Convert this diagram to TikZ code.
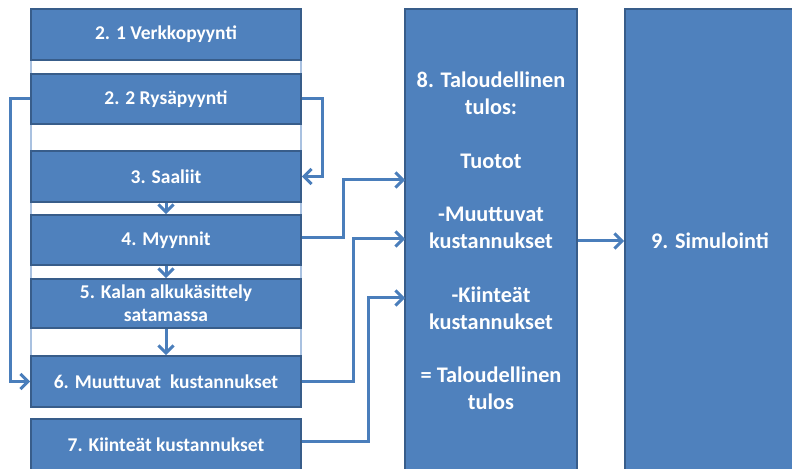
\documentclass[tikz,border=0pt]{standalone}
\usepackage{fontspec}
\setmainfont{Carlito}
\usetikzlibrary{arrows.meta}
\definecolor{boxfill}{HTML}{4F81BD}
\definecolor{boxline}{HTML}{385D8A}
\definecolor{arrc}{HTML}{4A7EBB}
\definecolor{framec}{HTML}{A9C1E0}
\tikzset{
  box/.style={draw=boxline, fill=boxfill, line width=1.8bp, inner sep=0pt,
    text=white, font=\fontsize{19.5bp}{23bp}\selectfont\bfseries, align=center},
  sidebox/.style={box, minimum width=270bp},
  bigtext/.style={text=white, font=\fontsize{22.3bp}{26.8bp}\selectfont\bfseries, align=center, inner sep=0pt},
  arr/.style={draw=arrc, line width=3bp,
    -{Straight Barb[length=7.5bp,width=15bp,line width=3bp]}},
}
\begin{document}
\begin{tikzpicture}[x=1bp,y=-1bp]
\useasboundingbox (0,0) rectangle (792,469);
\begin{scope}
\clip (0,0) rectangle (792,469);
\draw[framec, line width=1.2bp] (31,9) rectangle (301,407);
\node[sidebox, minimum height=51bp] (b21) at (166,34.5) {2. 1 Verkkopyynti};
\node[sidebox, minimum height=50bp] (b22) at (166,99) {2. 2 Rysäpyynti};
\node[sidebox, minimum height=51bp] (b3) at (166,176.5) {3. Saaliit};
\node[sidebox, minimum height=50bp] (b4) at (166,240) {4. Myynnit};
\node[sidebox, minimum height=49bp] (b5) at (166,303.5) {5. Kalan alkukäsittely\\satamassa};
\node[sidebox, minimum height=51bp] (b6) at (166,381.5) {6. Muuttuvat~ kustannukset};
\node[sidebox, minimum height=51bp] (b7) at (166,444.5) {7. Kiinteät kustannukset};
\node[box, minimum width=172bp, minimum height=462bp] (b8) at (491,240) {};
\node[bigtext] (t8) at (491,241)
  {8. Taloudellinen\\tulos:\\[26.8bp]Tuotot\\[26.8bp]-Muuttuvat\\kustannukset\\[26.8bp]-Kiinteät\\kustannukset\\[26.8bp]= Taloudellinen\\tulos};
\node[box, minimum width=170bp, minimum height=462bp] (b9) at (710,240) {};
\node[bigtext] (t9) at (710,241) {9. Simulointi};
\coordinate (in1) at (405,180);
\coordinate (in2) at (405,239);
\coordinate (in3) at (405,298);
\draw[arr] (b22.west) -- ++(-20,0) |- (b6.west);
\draw[arr] (b22.east) -- ++(21,0) |- (b3.east);
\draw[arr] (b3) -- (b4);
\draw[arr] (b4) -- (b5);
\draw[arr] (b5) -- (b6);
\draw[arr] ([yshift=2bp]b4.east) -- ++(42,0) |- (in1);
\draw[arr] (b6.east) -- ++(52,0) |- (in2);
\draw[arr] ([yshift=3bp]b7.east) -- ++(67,0) |- (in3);
\draw[arr] (b8.east |- t9) -- (b9.west |- t9);
\end{scope}
\end{tikzpicture}
\end{document}
